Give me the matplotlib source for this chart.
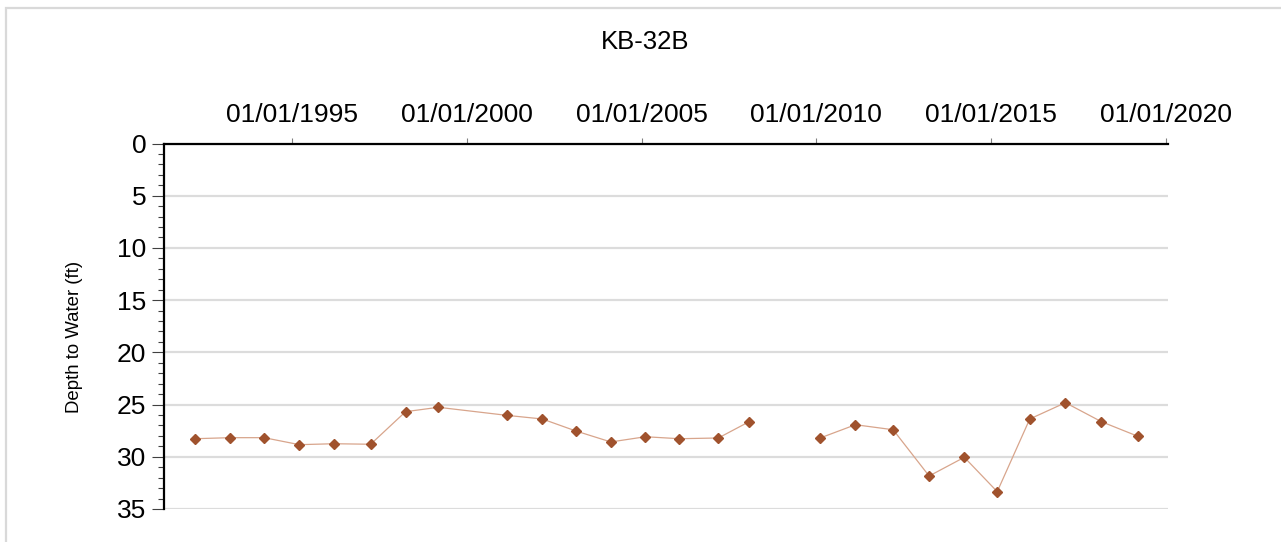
import numpy as np
import pandas as pd
import matplotlib
matplotlib.use("Agg")
import matplotlib.pyplot as plt
import matplotlib.dates as mdates
from matplotlib.ticker import MultipleLocator
from matplotlib.patches import Rectangle

plt.rcParams['font.family'] = ['Liberation Sans', 'DejaVu Sans']

# well KB-32B, depth to water readings (2009 not measured -> gap in line)
sample_dates = [
    "1992-03-20", "1993-03-25", "1994-03-14", "1995-03-18", "1996-03-14",
    "1997-04-01", "1998-04-01", "1999-03-10", "2001-02-20", "2002-02-28",
    "2003-02-14", "2004-02-14", "2005-02-10", "2006-01-30", "2007-03-14",
    "2008-01-30", "2009-02-10", "2010-02-10", "2011-02-14", "2012-03-14",
    "2013-03-25", "2014-03-28", "2015-03-07", "2016-02-10", "2017-02-17",
    "2018-02-28", "2019-03-14",
]
depth_ft = [
    28.27, 28.17, 28.17, 28.84, 28.75, 28.80, 25.68, 25.26, 26.03, 26.38,
    27.53, 28.58, 28.08, 28.27, 28.20, 26.64, np.nan, 28.20, 26.93, 27.41,
    31.84, 30.05, 33.34, 26.38, 24.82, 26.64, 28.03,
]
tick_years = [1995, 2000, 2005, 2010, 2015, 2020]
well_name = "KB-32B"

df = pd.DataFrame({"date": pd.to_datetime(sample_dates), "depth": depth_ft})

fig = plt.figure(figsize=(12.81, 5.42), dpi=100)
fig.patches.append(Rectangle((6 / 1281, -0.1), 1.2, 1.1 - 8 / 542,
                             transform=fig.transFigure, fill=False,
                             edgecolor="#d9d9d9", linewidth=1.6))

ax = fig.add_axes([0.1284, 0.0609, 0.7834, 0.6743])

ax.plot(df["date"], df["depth"], color="#d8a58c", linewidth=0.9, zorder=3)
ax.plot(df["date"], df["depth"], linestyle="none", marker="D",
        markersize=5, color="#a0522d", zorder=4)

ax.set_xlim(pd.Timestamp("1991-05-08"), pd.Timestamp("2020-01-25"))
ax.set_ylim(35, 0)

ax.xaxis.tick_top()
ax.set_xticks([pd.Timestamp(f"{y}-01-01") for y in tick_years])
ax.xaxis.set_major_formatter(mdates.DateFormatter("%m/%d/%Y"))
ax.tick_params(axis="x", which="major", length=4, width=0.8, color="#808080",
               pad=8, labelsize=19)

ax.yaxis.set_major_locator(MultipleLocator(5))
ax.yaxis.set_minor_locator(MultipleLocator(1))
ax.tick_params(axis="y", which="major", length=9, width=0.8, color="#404040",
               pad=4, labelsize=19)
ax.tick_params(axis="y", which="minor", length=4.5, width=0.8, color="#404040")

ax.grid(axis="y", which="major", color="#dcdcdc", linewidth=1.6, zorder=0)
ax.set_axisbelow(True)

for side in ["right", "bottom"]:
    ax.spines[side].set_visible(False)
for side in ["top", "left"]:
    ax.spines[side].set_linewidth(1.6)
    ax.spines[side].set_color("black")

ax.set_ylabel("Depth to Water (ft)", fontsize=13.4)
ax.yaxis.set_label_coords(-0.0812, 0.472)
fig.text(645 / 1281, 1 - 42 / 542, well_name, ha="center", va="center",
         fontsize=18.5)

fig.savefig("out.png", dpi=100)
